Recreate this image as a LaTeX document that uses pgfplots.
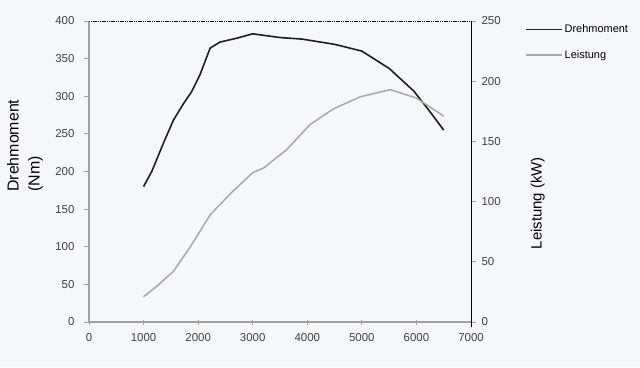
\documentclass[border=0pt]{standalone}
\usepackage{pgfplots}
\pgfplotsset{compat=1.18}
\usepackage{fontspec}
\setmainfont{Liberation Sans}
\definecolor{bg}{HTML}{F5F8FB}
\definecolor{tq}{HTML}{1E1E1E}
\definecolor{pw}{HTML}{A8A8A8}
\definecolor{axg}{HTML}{A0A0A0}
\begin{document}
\begin{tikzpicture}[x=1bp,y=1bp]
\path[fill=bg,use as bounding box] (0,0) rectangle (640,367);
\begin{axis}[
  at={(89bp,45bp)}, anchor=south west,
  width=382bp, height=301bp, scale only axis,
  xmin=0, xmax=7000, ymin=0, ymax=400,
  xtick={0,1000,...,7000}, ytick={0,50,...,400},
  axis x line*=bottom, axis y line*=left,
  axis line style={axg, line width=1.8bp},
  every tick/.style={axg, line width=0.8bp},
  major tick length=5bp,
  xtick align=center, ytick align=outside,
  tick label style={font=\fontsize{11.5}{12}\selectfont, text=black!75},
  /pgf/number format/assume math mode=true,
  /pgf/number format/1000 sep={},
  xticklabel style={yshift=-5bp},
  yticklabel style={xshift=-6bp},
  ylabel={Drehmoment\\(Nm)},
  ylabel style={at={(rel axis cs:-0.120,0.432)}, anchor=south west, align=left,
    inner sep=0pt, font=\fontsize{16}{21}\selectfont},
  clip=false,
]
\draw[black, line width=0.8bp, dash pattern=on 1.2bp off 0.6bp] (rel axis cs:0,1) -- (rel axis cs:1,1);
\addplot[tq, line width=1.6bp] coordinates {
(1000,180) (1150,200) (1360,237) (1545,268) (1730,290) (1880,306) (2030,328) (2220,364)
(2400,372) (2700,377) (3000,383) (3500,378) (3900,376) (4500,369) (5000,360)
(5500,337) (5950,307) (6200,284) (6500,255)};
\end{axis}
\begin{axis}[
  at={(89bp,45bp)}, anchor=south west,
  width=382bp, height=301bp, scale only axis,
  xmin=0, xmax=7000, ymin=0, ymax=250,
  ytick={0,50,...,250},
  axis x line=none, axis y line*=right,
  axis line style={black, line width=1bp, shorten <=-5bp},
  every tick/.style={axg, line width=0.8bp},
  major tick length=5bp, ytick align=outside,
  tick label style={font=\fontsize{11.5}{12}\selectfont, text=black!75},
  /pgf/number format/assume math mode=true,
  yticklabel style={xshift=2bp},
  ylabel={Leistung (kW)},
  ylabel style={at={(rel axis cs:1.175,0.395)}, anchor=center,
    inner sep=0pt, font=\fontsize{15}{16}\selectfont},
  clip=false,
  legend style={at={(rel axis cs:1.141,0.930)}, anchor=west, draw=none, fill=none,
    inner sep=0pt, row sep=12bp, font=\fontsize{11}{12}\selectfont,
    cells={anchor=west}},
  legend cell align=left,
  legend image code/.code={\draw[#1] (0bp,0bp) -- (36bp,0bp);},
]
\addlegendimage{tq, line width=1.6bp}
\addlegendentry{Drehmoment}
\addplot[pw, line width=1.5bp] coordinates {
(1000,21) (1250,30) (1545,42) (1850,62) (2220,89) (2600,107) (3000,124) (3200,128)
(3620,143) (4050,164) (4480,177) (4970,187) (5520,193) (6000,186) (6300,177) (6500,171)};
\addlegendentry{Leistung}
\end{axis}
\end{tikzpicture}
\end{document}
